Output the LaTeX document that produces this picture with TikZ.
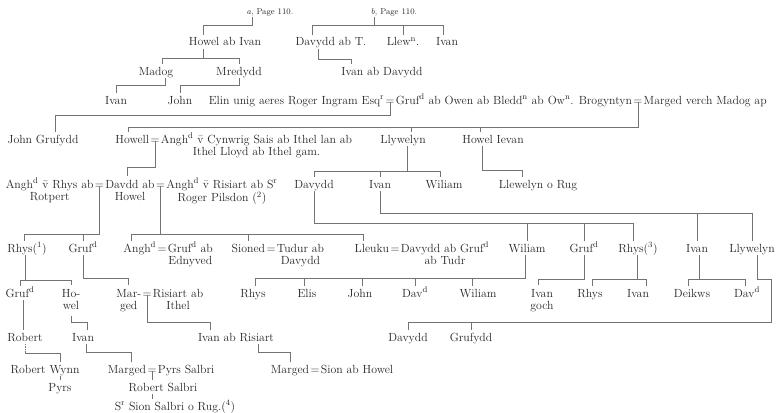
\documentclass[tikz,border=0pt]{standalone}
\usepackage{tikz}
\usetikzlibrary{positioning}

\newcommand{\duo}[2]{\begin{tabular}[t]{@{}c@{}}#1\\#2\end{tabular}}

\begin{document}
\begin{tikzpicture}[x=1pt, y=-1pt,
    who/.style={anchor=base, inner xsep=1pt, inner ysep=3pt, text height=8pt, text depth=0pt, text=ink, font=\fontsize{11.8}{12}\selectfont},
    who2/.style={anchor=base, inner xsep=1pt, inner ysep=3pt, text=ink, font=\fontsize{11.8}{12}\selectfont},
    wed/.style={anchor=base, inner sep=0pt, text=ink, font=\fontsize{11.8}{12}\selectfont},
    tag/.style={anchor=base, inner xsep=1pt, inner ysep=2pt, text height=6pt, text depth=0pt, text=ink, font=\fontsize{8.5}{10}\selectfont},
    kin/.style={draw=linegray, line width=0.6pt}]
        \colorlet{ink}{black!85}
        \colorlet{linegray}{black!55}

        \useasboundingbox[fill=white] (0,0) rectangle (781,412);

        \node[tag] (pa) at (270,15) {\textit{a}, Page 110.};
        \node[tag] (pb) at (394,15) {\textit{b}, Page 110.};

        \node[who] (howelai) at (225,46) {Howel ab Ivan};
        \node[who] (davyddT) at (331,46) {Davydd ab T.};
        \node[who] (llewn) at (403,46) {Llew\textsuperscript{n}.};
        \node[who] (ivanb) at (447,46) {Ivan};

        \node[who] (madog) at (156,75) {Madog};
        \node[who] (mredydd) at (239,75) {Mredydd};
        \node[who] (ivanad) at (382,75) {Ivan ab Davydd};

        \node[who] (ivanm) at (116,104) {Ivan};
        \node[who] (johnm) at (180,104) {John};
        \node[wed] (eq1) at (390,104) {=};
        \node[who, base left=0pt of eq1] (elin) {Elin unig aeres Roger Ingram Esq\textsuperscript{r}};
        \node[who, base right=0pt of eq1] (grufo) {Gruf\textsuperscript{d} ab Owen ab Bledd\textsuperscript{n} ab Ow\textsuperscript{n}. Brogyntyn};
        \node[wed, base right=0pt of grufo] (eq2) {=};
        \node[who, base right=0pt of eq2] (margedm) {Marged verch Madog ap};

        \node[who] (johngruf) at (43,143) {John Grufydd};
        \node[wed] (eq3) at (155,143) {=};
        \node[who, base left=0pt of eq3] (howell) {Howell};
        \node[who2, base right=0pt of eq3] (anghdc) {\duo{Angh\textsuperscript{d} \={v} Cynwrig Sais ab Ithel lan ab}{Ithel Lloyd ab Ithel gam.}};
        \node[who] (llywelyn) at (403,143) {Llywelyn};
        \node[who] (howelievan) at (493,143) {Howel Ievan};

        \node[who2] (davdd) at (130,188) {\duo{Davdd ab}{Howel}};
        \node[wed, base left=0pt of davdd] (eq4) {=};
        \node[who2, base left=0pt of eq4] (rhysab) {\duo{Angh\textsuperscript{d} \={v} Rhys ab}{Rotpert}};
        \node[wed, base right=0pt of davdd] (eq5) {=};
        \node[who2, base right=0pt of eq5] (risiart) {\duo{Angh\textsuperscript{d} \={v} Risiart ab S\textsuperscript{r}}{Roger Pilsdon (\textsuperscript{2})}};
        \node[who] (davyddl) at (314,188) {Davydd};
        \node[who] (ivanl) at (380,188) {Ivan};
        \node[who] (wiliaml) at (444,188) {Wiliam};
        \node[who] (llewrug) at (538,188) {Llewelyn o Rug};

        \node[who] (rhysa) at (27,252) {Rhys(\textsuperscript{1})};
        \node[who] (grufa) at (83,252) {Gruf\textsuperscript{d}};
        \node[wed] (eq6) at (162,252) {=};
        \node[who, base left=0pt of eq6] (anghde) {Angh\textsuperscript{d}};
        \node[who2, base right=0pt of eq6] (grufe) {\duo{Gruf\textsuperscript{d} ab}{Ednyved}};
        \node[wed] (eq7) at (271,252) {=};
        \node[who, base left=0pt of eq7] (sioned) {Sioned};
        \node[who2, base right=0pt of eq7] (tudur) {\duo{Tudur ab}{Davydd}};
        \node[wed] (eq8) at (395,252) {=};
        \node[who, base left=0pt of eq8] (lleuku) {Lleuku};
        \node[who2, base right=0pt of eq8] (davyddg) {\duo{Davydd ab Gruf\textsuperscript{d}}{ab Tudr}};
        \node[who] (wiliamb) at (527,252) {Wiliam};
        \node[who] (grufb) at (584,252) {Gruf\textsuperscript{d}};
        \node[who] (rhysb) at (638,252) {Rhys(\textsuperscript{3})};
        \node[who] (ivanc) at (697,252) {Ivan};
        \node[who] (llywelynb) at (752,252) {Llywelyn};

        \node[who] (grufc) at (20,297) {Gruf\textsuperscript{d}};
        \node[who2] (howelc) at (71,297) {\duo{Ho-}{wel}};
        \node[wed] (eq9) at (147,297) {=};
        \node[who2, base left=0pt of eq9] (marged) {\duo{Mar-}{ged}};
        \node[who2, base right=0pt of eq9] (risiartb) {\duo{Risiart ab}{Ithel}};
        \node[who] (rhysc) at (253,297) {Rhys};
        \node[who] (elis) at (307,297) {Elis};
        \node[who] (johnc) at (360,297) {John};
        \node[who] (davdc) at (415,297) {Dav\textsuperscript{d}};
        \node[who] (wiliamc) at (478,297) {Wiliam};
        \node[who2] (ivangoch) at (542,297) {\duo{Ivan}{goch}};
        \node[who] (rhysd) at (590,297) {Rhys};
        \node[who] (ivand) at (638,297) {Ivan};
        \node[who] (deikws) at (692,297) {Deikws};
        \node[who] (davde) at (747,297) {Dav\textsuperscript{d}};

        \node[who] (robert) at (25,341) {Robert};
        \node[who] (ivane) at (83,341) {Ivan};
        \node[who] (ivanris) at (236,341) {Ivan ab Risiart};
        \node[who] (davydde) at (408,341) {Davydd};
        \node[who] (grufydde) at (471,341) {Grufydd};

        \node[who] (robertw) at (45,373) {Robert Wynn};
        \node[wed] (eq10) at (152,373) {=};
        \node[who, base left=0pt of eq10] (margedp) {Marged};
        \node[who, base right=0pt of eq10] (pyrs) {Pyrs Salbri};
        \node[wed] (eq11) at (315,373) {=};
        \node[who, base left=0pt of eq11] (margeds) {Marged};
        \node[who, base right=0pt of eq11] (sion) {Sion ab Howel};

        \node[who] (pyrsw) at (60,391) {Pyrs};
        \node[who] (robsal) at (163,391) {Robert Salbri};
        \node[who] (sionsal) at (175,410) {S\textsuperscript{r} Sion Salbri o Rug.(\textsuperscript{4})};

        \draw[kin] ([xshift=-18pt]pa.south) -- ([xshift=-18pt]pa.south |- 0,25) -| ([xshift=-22pt]howelai.north);

        \draw[kin] ([xshift=-20pt]pb.south) -- ([xshift=-20pt]pb.south |- 0,25) -| ([xshift=-19pt]davyddT.north);
        \draw[kin] ([xshift=-20pt]pb.south |- 0,25) -| (llewn.north);
        \draw[kin] ([xshift=-20pt]pb.south |- 0,25) -| ([xshift=-4pt]ivanb.north);

        \draw[kin] ([xshift=-22pt]howelai.south) -- ([xshift=-22pt]howelai.south |- 0,58) -| ([xshift=6pt]madog.north);
        \draw[kin] ([xshift=-22pt]howelai.south |- 0,58) -| (mredydd.north);
        \draw[kin] ([xshift=-13pt]davyddT.south) -- ([xshift=-13pt]davyddT.south |- 0,59) -| ([xshift=-31pt]ivanad.north);

        \draw[kin] ([xshift=9pt]madog.south) -- ([xshift=9pt]madog.south |- 0,85) -| (ivanm.north);
        \draw[kin] (mredydd.south) -- (mredydd.south |- 0,85) -| (johnm.north);

        \draw[kin] (eq1.center) -- (eq1.center |- 0,115) -| ([xshift=12pt]johngruf.north);

        \draw[kin] (eq2.center) -- (eq2.center |- 0,127) -| ([xshift=-4pt]howell.north);
        \draw[kin] (eq2.center |- 0,127) -| ([xshift=8pt]llywelyn.north);
        \draw[kin] (eq2.center |- 0,127) -| ([xshift=-13pt]howelievan.north);

        \draw[kin] (eq3.center) -- (eq3.center |- 0,167) -| ([xshift=-3pt]davdd.north);

        \draw[kin] ([xshift=4pt]llywelyn.south) -- ([xshift=4pt]llywelyn.south |- 0,171) -| (davyddl.north);
        \draw[kin] ([xshift=4pt]llywelyn.south |- 0,171) -| (ivanl.north);
        \draw[kin] ([xshift=4pt]llywelyn.south |- 0,171) -| ([xshift=-4pt]wiliaml.north);
        \draw[kin] ([xshift=-11pt]howelievan.south) -- ([xshift=-11pt]howelievan.south |- 0,170) -| ([xshift=-16pt]llewrug.north);

        \draw[kin] (eq4.center) -- (eq4.center |- 0,234) -| ([xshift=-3pt]rhysa.north);
        \draw[kin] (eq4.center |- 0,234) -| (grufa.north);
        \draw[kin] (eq5.center) -- (eq5.center |- 0,234) -| ([xshift=-8pt]anghde.north);
        \draw[kin] (eq5.center |- 0,234) -| (sioned.north);
        \draw[kin] (eq5.center |- 0,234) -| ([xshift=-9pt]lleuku.north);

        \draw[kin] (davyddl.south) -- (davyddl.south |- 0,223) -| (wiliamb.north);
        \draw[kin] (davyddl.south |- 0,223) -| (grufb.north);
        \draw[kin] (davyddl.south |- 0,223) -| ([xshift=-5pt]rhysb.north);
        \draw[kin] (ivanl.south) -- (ivanl.south |- 0,213) -| (ivanc.north);
        \draw[kin] (ivanl.south |- 0,213) -| (llywelynb.north);

        \draw[kin] ([xshift=-2pt]rhysa.south) -- ([xshift=-2pt]rhysa.south |- 0,280) -| (grufc.north);
        \draw[kin] ([xshift=-2pt]rhysa.south |- 0,280) -| (howelc.north);
        \draw[kin] (grufa.south) -- (grufa.south |- 0,278) -| (marged.north);

        \draw[kin] ([xshift=-2pt]wiliamb.south) -- ([xshift=-2pt]wiliamb.south |- 0,278) -| ([xshift=2pt]rhysc.north);
        \draw[kin] ([xshift=-2pt]wiliamb.south |- 0,278) -| ([xshift=-3pt]elis.north);
        \draw[kin] ([xshift=-2pt]wiliamb.south |- 0,278) -| ([xshift=2pt]johnc.north);
        \draw[kin] ([xshift=-2pt]wiliamb.south |- 0,278) -| (davdc.north);
        \draw[kin] ([xshift=-2pt]wiliamb.south |- 0,278) -| ([xshift=-6pt]wiliamc.north);
        \draw[kin] (grufb.south) -- (grufb.south |- 0,279) -| ([xshift=-4pt]ivangoch.north);
        \draw[kin] ([xshift=-1pt]rhysb.south) -- ([xshift=-1pt]rhysb.south |- 0,279) -| ([xshift=2pt]rhysd.north);
        \draw[kin] ([xshift=-1pt]rhysb.south |- 0,279) -| ([xshift=8pt]ivand.north);
        \draw[kin] ([xshift=2pt]ivanc.south) -- ([xshift=2pt]ivanc.south |- 0,279) -| ([xshift=-4pt]deikws.north);
        \draw[kin] ([xshift=2pt]ivanc.south |- 0,279) -| ([xshift=-2pt]davde.north);

        \coordinate (jog) at (771,279);
        \draw[kin] ([xshift=5pt]llywelynb.south) |- (jog) -- (jog |- 0,322) -| (davydde.north);
        \draw[kin] (jog |- 0,322) -| (grufydde.north);

        \draw[kin] ([xshift=3pt]grufc.south) -- ([xshift=3pt]grufc.south |- robert.north);
        \draw[kin] (howelc.south) -- (howelc.south |- 0,322) -| ([xshift=4pt]ivane.north);
        \draw[kin] (eq9.center) -- (eq9.center |- 0,322) -| ([xshift=-26pt]ivanris.north);

        \draw[kin, densely dotted] (robert.south) -- (robert.south |- 0,353);
        \draw[kin] (robert.south |- 0,353) -| ([xshift=15pt]robertw.north);
        \draw[kin] ([xshift=15pt]robertw.south) -- ([xshift=15pt]robertw.south |- pyrsw.north);
        \draw[kin] ([xshift=3pt]ivane.south) -- ([xshift=3pt]ivane.south |- 0,352) -| ([xshift=4pt]margedp.north);
        \draw[kin] ([xshift=22pt]ivanris.south) -- ([xshift=22pt]ivanris.south |- 0,352) -| (margeds.north);
        \draw[kin] (eq10.center) -- (eq10.center |- robsal.north);
        \draw[kin] ([xshift=-11pt]robsal.south) -- ([xshift=-11pt]robsal.south |- sionsal.north);
    \end{tikzpicture}
\end{document}
